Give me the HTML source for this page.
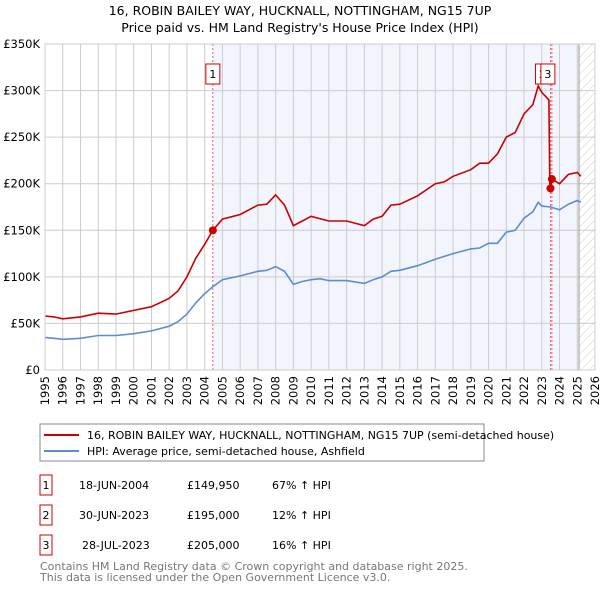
<!DOCTYPE html>
<html><head><meta charset="utf-8"><style>
body{margin:0;background:#fff;font-family:"DejaVu Sans","Liberation Sans",sans-serif;}
svg text{font-family:"DejaVu Sans","Liberation Sans",sans-serif;}
</style></head><body>
<svg id="c" width="600" height="590" xmlns="http://www.w3.org/2000/svg">
<defs><pattern id="hatch" width="6" height="6" patternUnits="userSpaceOnUse" patternTransform="rotate(45)"><line x1="0" y1="0" x2="0" y2="6" stroke="#ccc" stroke-width="1"/></pattern></defs>
<text x="300" y="15" text-anchor="middle" font-size="12.5">16, ROBIN BAILEY WAY, HUCKNALL, NOTTINGHAM, NG15 7UP</text>
<text x="300" y="32" text-anchor="middle" font-size="12.5">Price paid vs. HM Land Registry's House Price Index (HPI)</text>
<g id="plot"></g>
<rect x="40" y="424" width="444" height="37" fill="#fff" stroke="#888"/>
<line x1="44" y1="435" x2="79" y2="435" stroke="#cc0000" stroke-width="2"/>
<text x="87" y="439" font-size="11">16, ROBIN BAILEY WAY, HUCKNALL, NOTTINGHAM, NG15 7UP (semi-detached house)</text>
<line x1="44" y1="451" x2="79" y2="451" stroke="#5b8dd0" stroke-width="2"/>
<text x="87" y="455" font-size="11">HPI: Average price, semi-detached house, Ashfield</text>
<g font-size="11">
<rect x="40" y="475" width="12" height="20" fill="#fff" stroke="#cc0000"/><text x="46" y="489" text-anchor="middle">1</text>
<text x="79" y="489">18-JUN-2004</text><text x="187" y="489">£149,950</text><text x="272" y="489">67% ↑ HPI</text>
<rect x="40" y="505" width="12" height="20" fill="#fff" stroke="#cc0000"/><text x="46" y="519" text-anchor="middle">2</text>
<text x="79" y="519">30-JUN-2023</text><text x="187" y="519">£195,000</text><text x="272" y="519">12% ↑ HPI</text>
<rect x="40" y="535" width="12" height="20" fill="#fff" stroke="#cc0000"/><text x="46" y="549" text-anchor="middle">3</text>
<text x="82" y="549">28-JUL-2023</text><text x="187" y="549">£205,000</text><text x="272" y="549">16% ↑ HPI</text>
</g>
<text x="40" y="570" font-size="11" fill="#777">Contains HM Land Registry data © Crown copyright and database right 2025.</text>
<text x="40" y="581" font-size="11" fill="#777">This data is licensed under the Open Government Licence v3.0.</text>
</svg>
<script>
const hpiYears=[1995,1995.5,1996,1997,1998,1999,2000,2001,2002,2002.5,2003,2003.5,2004,2004.5,2005,2006,2007,2007.5,2008,2008.5,2009,2009.5,2010,2010.5,2011,2012,2013,2013.5,2014,2014.5,2015,2016,2017,2017.5,2018,2019,2019.5,2020,2020.5,2021,2021.5,2022,2022.5,2022.8,2023,2023.5,2024,2024.5,2025,2025.2];
const hpiValues=[35,34,33,34,37,37,39,42,47,52,60,72,82,90,97,101,106,107,111,106,92,95,97,98,96,96,93,97,100,106,107,112,119,122,125,130,131,136,136,148,150,163,170,180,176,175,172,178,182,180];
const propYears=[1995,1995.5,1996,1997,1998,1999,2000,2001,2002,2002.5,2003,2003.5,2004,2004.46,2005,2006,2007,2007.5,2008,2008.5,2009,2009.5,2010,2011,2012,2013,2013.5,2014,2014.5,2015,2016,2017,2017.5,2018,2019,2019.5,2020,2020.5,2021,2021.5,2022,2022.5,2022.8,2023,2023.4,2023.45,2023.49,2023.57,2024,2024.5,2025,2025.2];
const propValues=[58,57,55,57,61,60,64,68,77,85,100,120,135,150,162,167,177,178,188,177,155,160,165,160,160,155,162,165,177,178,187,200,202,208,215,222,222,232,250,255,275,285,305,298,290,200,195,205,200,210,212,208];
const saleYears=[2004.46,2023.49,2023.57];
const saleValues=[149.95,195,205];
const saleLabels=["1","2","3"];
const yTicks=[0,50,100,150,200,250,300,350];
const yTickLabels=["£0","£50K","£100K","£150K","£200K","£250K","£300K","£350K"];
const xTicks=[1995,1996,1997,1998,1999,2000,2001,2002,2003,2004,2005,2006,2007,2008,2009,2010,2011,2012,2013,2014,2015,2016,2017,2018,2019,2020,2021,2022,2023,2024,2025,2026];

const X0=45,X1=595,Y0=370,Y1=44;
const xs=y=>X0+(y-1995)/(2026-1995)*(X1-X0);
const ys=v=>Y0-v/350*(Y0-Y1);
const g=document.getElementById('plot');
const NS='http://www.w3.org/2000/svg';
function mk(t,a){const e=document.createElementNS(NS,t);for(const k in a)e.setAttribute(k,a[k]);g.appendChild(e);return e;}
let e;
e=mk('rect',{x:xs(saleYears[0]),y:Y1,width:xs(2025.1)-xs(saleYears[0]),height:Y0-Y1,fill:'#f2f5fd'});


e=mk('rect',{x:xs(2025.1),y:Y1,width:X1-xs(2025.1),height:Y0-Y1,fill:'url(#hatch)'});


yTicks.forEach((t,i)=>{
 e=mk('line',{x1:X0,x2:X1,y1:ys(t),y2:ys(t),stroke:'#ccc'});
 
 
 e=mk('text',{x:X0-5,y:ys(t)+4,'text-anchor':'end','font-size':'11.5'});e.textContent=yTickLabels[i];
 
 
});
xTicks.forEach(t=>{
 e=mk('line',{x1:xs(t),x2:xs(t),y1:Y1,y2:Y0,stroke:'#ccc'});
 
 
 e=mk('text',{x:0,y:0,'text-anchor':'end','font-size':'11.5',transform:`translate(${xs(t)+4},${Y0+6}) rotate(-90)`});e.textContent=t;
 
 
});
e=mk('line',{x1:xs(2025.1),x2:xs(2025.1),y1:Y1,y2:Y0,stroke:'#999'});


saleYears.forEach(s=>{
 e=mk('line',{x1:xs(s),x2:xs(s),y1:Y1,y2:Y0,stroke:'#f06060','stroke-dasharray':'2,2'});
 
 
});
const path=(yrs,vals)=>yrs.map((y,i)=>(i?'L':'M')+xs(y).toFixed(1)+','+ys(vals[i]).toFixed(1)).join('');
e=mk('path',{d:path(hpiYears,hpiValues),fill:'none',stroke:'#5b8dd0','stroke-width':1.6});


e=mk('path',{d:path(propYears,propValues),fill:'none',stroke:'#cc0000','stroke-width':1.6});


saleYears.forEach((s,i)=>{
 e=mk('circle',{cx:xs(s),cy:ys(saleValues[i]),r:4,fill:'#cc0000'});
 
 
});
const boxOff=[0,-8,-4];
saleYears.forEach((s,i)=>{
 const cx=xs(s)+boxOff[i];
 e=mk('rect',{x:cx-7,y:64,width:14,height:20,fill:'#fff',stroke:'#cc0000'});
 
 
 e=mk('text',{x:cx,y:78,'text-anchor':'middle','font-size':'11'});e.textContent=saleLabels[i];
 
 
});
e=mk('rect',{x:X0,y:Y1,width:X1-X0,height:Y0-Y1,fill:'none',stroke:'#ccc'});


</script>
</body></html>
